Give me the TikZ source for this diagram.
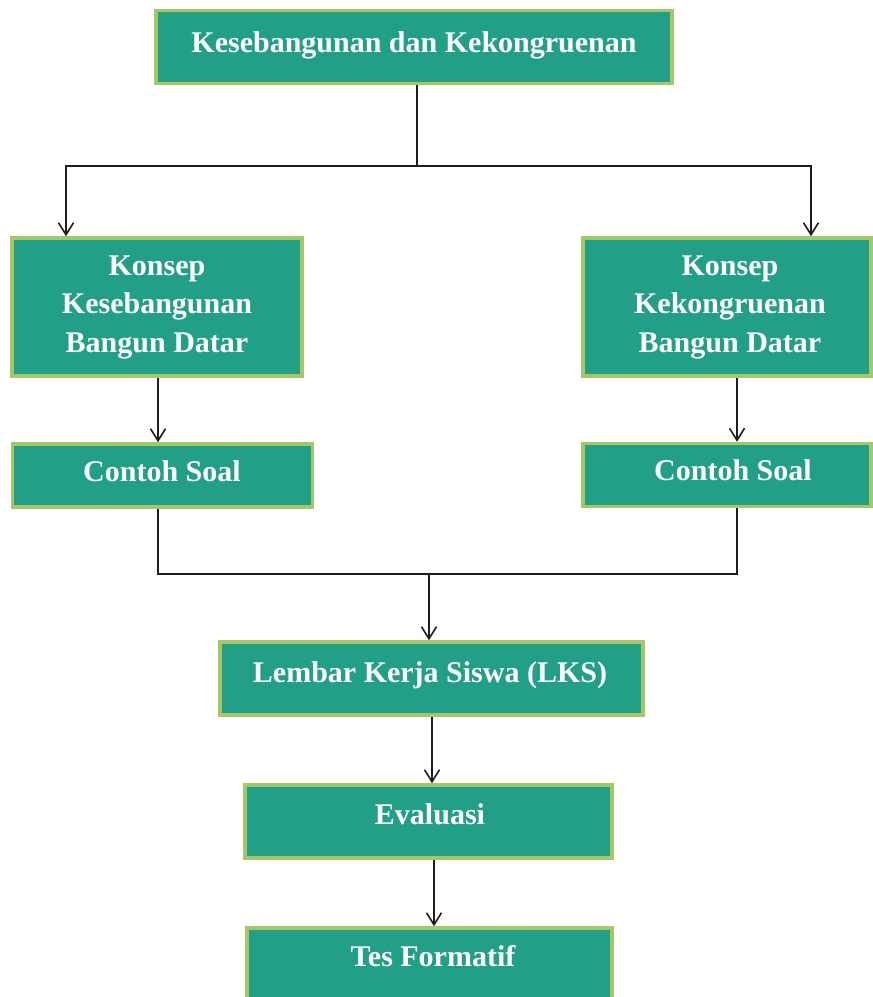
\documentclass[tikz,border=0pt]{standalone}
\usepackage{fontspec}
\setmainfont{Liberation Serif}
\usetikzlibrary{arrows.meta}
\definecolor{boxfill}{RGB}{33,160,135}
\definecolor{boxline}{RGB}{165,200,100}
\definecolor{conn}{RGB}{30,30,30}
\tikzset{
  box/.style={draw=boxline, fill=boxfill, line width=3.5pt, inner sep=0pt},
  lbl/.style={text=white, font=\bfseries\fontsize{30}{38.5}\selectfont, align=center, inner sep=0pt},
  link/.style={draw=conn, line width=1.6pt},
  arr/.style={link, -{Straight Barb[length=12pt,width=15pt,line width=1.6pt]}}
}
\begin{document}
\begin{tikzpicture}[x=1pt,y=-1pt]
\useasboundingbox (0,0) rectangle (873,997);
\clip (0,0) rectangle (873,997);
% boxes
\node[box, minimum width=516pt, minimum height=73pt] (top) at (414,47) {};
\node[box, minimum width=290pt, minimum height=138pt] (kl) at (157,307) {};
\node[box, minimum width=288pt, minimum height=138pt] (kr) at (727,307) {};
\node[box, minimum width=300pt, minimum height=63pt] (cl) at (162.5,475.5) {};
\node[box, minimum width=288pt, minimum height=63pt] (cr) at (727,475) {};
\node[box, minimum width=423pt, minimum height=73pt] (lks) at (431.5,678.5) {};
\node[box, minimum width=367pt, minimum height=73pt] (eva) at (428.5,821.5) {};
\node[box, minimum width=365pt, minimum height=80pt] (tes) at (429.5,968) {};
% labels
\node[lbl, anchor=base] (ttop) at (414,52) {Kesebangunan dan Kekongruenan};
\node[lbl] (tkl) at (157,307) {Konsep\\Kesebangunan\\Bangun Datar};
\node[lbl] (tkr) at (730,307) {Konsep\\Kekongruenan\\Bangun Datar};
\node[lbl, anchor=base] (tcl) at (162,481) {Contoh Soal};
\node[lbl, anchor=base] (tcr) at (733,480) {Contoh Soal};
\node[lbl, anchor=base] (tlks) at (430,682) {Lembar Kerja Siswa (LKS)};
\node[lbl, anchor=base] (teva) at (430,824) {Evaluasi};
\node[lbl, anchor=base] (ttes) at (433,966) {Tes Formatif};
% junction coordinates
\coordinate (jt) at (417,166);
\coordinate (jl) at (66,166);
\coordinate (jr) at (811,166);
\coordinate (xl) at (158,0);
\coordinate (xr) at (737,0);
\coordinate (jb) at (429,574);
\coordinate (xm1) at (432,0);
\coordinate (xm2) at (434,0);
% connectors
\draw[link] (top.south -| jt) -- (jt);
\draw[arr] (jt) -- (jl) -- (jl |- kl.north);
\draw[arr] (jt) -- (jr) -- (jr |- kr.north);
\draw[arr] (kl.south -| xl) -- (cl.north -| xl);
\draw[arr] (kr.south -| xr) -- (cr.north -| xr);
\draw[link] (cl.south -| xl) -- (xl |- jb) -- (xr |- jb) -- (cr.south -| xr);
\draw[arr] (jb) -- (lks.north -| jb);
\draw[arr] (lks.south -| xm1) -- (eva.north -| xm1);
\draw[arr] (eva.south -| xm2) -- (tes.north -| xm2);
\end{tikzpicture}
\end{document}
